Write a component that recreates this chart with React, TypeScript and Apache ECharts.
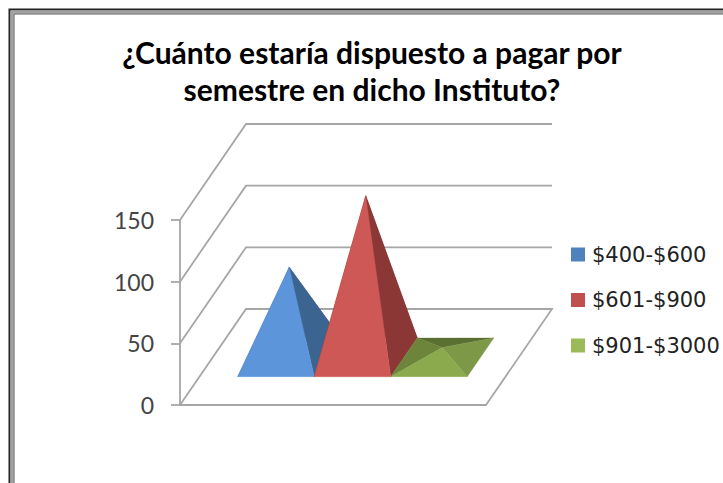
import React, { useEffect, useRef } from "react";
import * as echarts from "echarts";

const titleText = "¿Cuánto estaría dispuesto a pagar por\nsemestre en dicho Instituto?";
const categories = ["Pago"];
const seriesNames = ["$400-$600", "$601-$900", "$901-$3000"];
const seriesValues = [73, 131, 8];
const wallTicks = [0, 50, 100, 150];
const legendColors = ["#4f81bd", "#c0504d", "#9bbb59"];
const frontFaces = ["#5c95da", "#cd5855", "#8ba94d"];
const rightFaces = ["#3c6491", "#8a3735", "#7d9947"];
const leftFaces = ["#3c6491", "#8a3735", "#6c853a"];
const backFaces = ["#34567d", "#75302e", "#5a6f32"];

const DEPTH_X = 66;
const DEPTH_Y = -96;
const BAR_SHARE = 0.25; // width of each pyramid base over the category band
const BASE_NEAR = 0.295;
const BASE_FAR = 0.697;
const WALL = "#a6a6a6";

export default function App() {
  const ref = useRef<HTMLDivElement>(null);
  useEffect(() => {
    document.body.style.margin = "0";
    const chart = echarts.init(ref.current!, undefined, { renderer: "svg" });

    const wallSeries = {
      type: "custom",
      silent: true,
      clip: false,
      z: 1,
      encode: { x: 0, y: 1 },
      data: wallTicks.map((v) => [0, v]),
      renderItem: (_: any, api: any) => {
        const p = api.coord([api.value(0), api.value(1)]);
        const w = api.size([1, 0])[0];
        const left = p[0] - w / 2;
        const pts = [
          [left, p[1]],
          [left + DEPTH_X, p[1] + DEPTH_Y],
          [left + w + DEPTH_X, p[1] + DEPTH_Y],
        ];
        if (api.value(1) === 0) pts.push([left + w, p[1]]);
        return {
          type: "polyline",
          shape: { points: pts },
          style: { stroke: WALL, lineWidth: 1.8, fill: "none" },
        };
      },
    };

    const pyramid = (i: number) => ({
      type: "custom",
      name: seriesNames[i],
      silent: true,
      clip: false,
      z: 2 + i,
      itemStyle: { color: legendColors[i] },
      encode: { x: 0, y: 1 },
      data: [[0, seriesValues[i]]],
      renderItem: (_: any, api: any) => {
        const cat = api.value(0);
        const top = api.coord([cat, api.value(1)]);
        const zero = api.coord([cat, 0]);
        const w = api.size([1, 0])[0];
        const bw = w * BAR_SHARE;
        const x0 = zero[0] - 1.5 * bw + i * bw;
        const at = (x: number, d: number) => [x + DEPTH_X * d, zero[1] + DEPTH_Y * d];
        const fl = at(x0, BASE_NEAR);
        const fr = at(x0 + bw, BASE_NEAR);
        const bl = at(x0, BASE_FAR);
        const br = at(x0 + bw, BASE_FAR);
        const mid = at(x0 + bw / 2, (BASE_NEAR + BASE_FAR) / 2);
        const apex = [mid[0], mid[1] - (zero[1] - top[1])];
        const face = (points: number[][], fill: string) => ({
          type: "polygon",
          shape: { points },
          style: { fill, stroke: fill, lineWidth: 0.4 },
        });
        return {
          type: "group",
          children: [
            face([bl, br, apex], backFaces[i]),
            face([fl, bl, apex], leftFaces[i]),
            face([fr, br, apex], rightFaces[i]),
            face([fl, fr, apex], frontFaces[i]),
          ],
        };
      },
    });

    chart.setOption({
      animation: false,
      backgroundColor: "#ffffff",
      title: {
        text: titleText,
        left: 367,
        top: 28,
        textAlign: "center",
        textStyle: {
          fontFamily: "Lato",
          fontSize: 30,
          fontWeight: "bold",
          color: "#000000",
          lineHeight: 37,
        },
      },
      legend: {
        orient: "vertical",
        left: 566,
        top: 239,
        itemWidth: 14,
        itemHeight: 14,
        itemGap: 24.5,
        icon: "rect",
        data: seriesNames,
        textStyle: { fontFamily: "DejaVu Sans", fontSize: 21, color: "#222222", padding: [0, 0, 0, 2] },
      },
      grid: { left: 180, top: 220, width: 306, height: 185, containLabel: false },
      xAxis: {
        type: "category",
        data: categories,
        axisLabel: { show: false },
        axisTick: { show: false },
        axisLine: { show: true, lineStyle: { color: WALL, width: 1.8 } },
      },
      yAxis: {
        type: "value",
        min: 0,
        max: 150,
        interval: 50,
        splitLine: { show: false },
        axisLine: { show: true, lineStyle: { color: WALL, width: 1.8 } },
        axisTick: { show: true, length: 9, lineStyle: { color: WALL, width: 1.8 } },
        axisLabel: {
          margin: 26,
          fontFamily: "Lato",
          fontSize: 23,
          color: "#444444",
        },
      },
      series: [wallSeries, pyramid(0), pyramid(1), pyramid(2)],
      graphic: [
        {
          type: "rect",
          silent: true,
          z: 100,
          shape: { x: 9.5, y: 9.5, width: 800, height: 700 },
          style: { fill: "none", stroke: "#222222", lineWidth: 2 },
        },
        {
          type: "rect",
          silent: true,
          z: 101,
          shape: { x: 12, y: 12, width: 800, height: 700 },
          style: { fill: "none", stroke: "#a0a0a0", lineWidth: 3 },
        },
        {
          type: "rect",
          silent: true,
          z: 102,
          shape: { x: 14, y: 14, width: 800, height: 700 },
          style: { fill: "none", stroke: "#555555", lineWidth: 1 },
        },
      ],
    });
    return () => chart.dispose();
  }, []);
  return <div ref={ref} style={{ width: 723, height: 483 }} />;
}
